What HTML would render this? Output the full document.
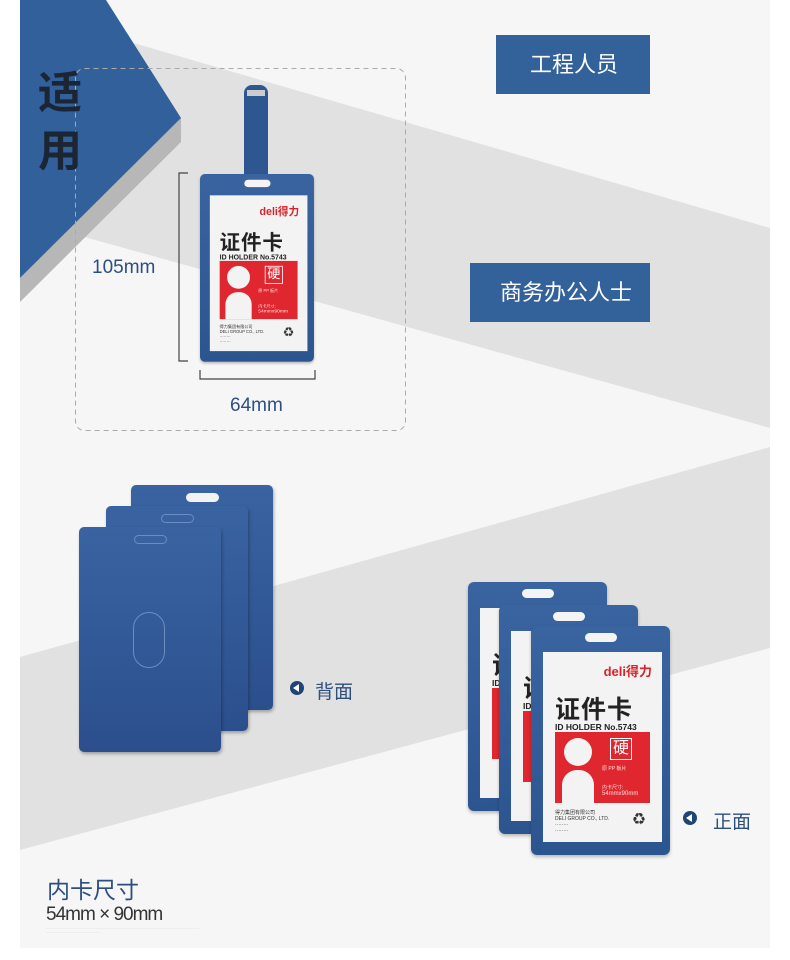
<!DOCTYPE html>
<html><head><meta charset="utf-8">
<style>
*{margin:0;padding:0;box-sizing:border-box}
body{width:790px;height:960px;background:#fff;position:relative;overflow:hidden;font-family:"Liberation Sans","Noto Sans CJK SC",sans-serif}
.abs{position:absolute}
.card{position:absolute;width:139px;height:229px;background:linear-gradient(180deg,#3a64a0,#2c5590);border-radius:6px;transform-origin:0 0;box-shadow:0 2px 3px rgba(0,0,0,.25)}
.card .slot{position:absolute;left:54px;top:7px;width:32px;height:9px;background:#f4f4f4;border-radius:5px}
.card .ins{position:absolute;left:12px;top:26px;width:119px;height:190px;background:#f3f3f3;overflow:hidden}
.ins .logo{position:absolute;right:10px;top:9px;color:#d8232a;font-size:13px;font-weight:bold}
.ins .t1{position:absolute;left:12px;top:38px;font-size:25px;font-weight:bold;color:#222;letter-spacing:1px}
.ins .t2{position:absolute;left:12px;top:70px;font-size:8.5px;font-weight:bold;color:#222;white-space:nowrap}
.ins .red{position:absolute;left:12px;top:80px;width:95px;height:71px;background:#e0262e}
.red .h{position:absolute;left:9px;top:6px;width:28px;height:28px;border-radius:50%;background:#f3f3f3}
.red .b{position:absolute;left:7px;top:38px;width:32px;height:33px;border-radius:15px 15px 0 0;background:#f3f3f3}
.red .y{position:absolute;left:55px;top:6px;width:22px;height:22px;border:1px solid #fff;color:#fff;font-size:16px;line-height:20px;text-align:center}
.red .s{position:absolute;left:47px;font-size:5px;color:#fdd;white-space:nowrap}
.ins .ft{position:absolute;left:12px;top:158px;font-size:5px;color:#333;line-height:6px;white-space:nowrap}
.ins .rc{position:absolute;left:90px;top:158px;font-size:12px;color:#333}
.bk{position:absolute;width:142px;height:225px;background:linear-gradient(180deg,#3a63a2,#2b4f8c);border-radius:5px;box-shadow:1px 2px 3px rgba(0,0,0,.3)}
.bk .slot{position:absolute;left:55px;top:8px;width:33px;height:9px;border-radius:5px;border:1px solid #6d8dc0}
.lbl{color:#2d4f80}
</style></head><body>
<div class="abs" style="left:20px;top:0;width:750px;height:948px;background:#f6f6f6"></div>
<svg class="abs" style="left:0;top:0" width="790" height="960">
<polygon points="20,10 770,228 770,428 20,219" fill="#e1e1e1"/>
<polygon points="20,657 770,447 770,648 20,850" fill="#e1e1e1"/>
<polygon points="181,118 181,142 20,302 20,278" fill="#b7b7b7"/>
<polygon points="20,0 106,0 181,118 20,278" fill="#31609a"/>
<rect x="75.5" y="68.5" width="330" height="362" rx="9" fill="none" stroke="#aaa" stroke-dasharray="5,4"/>
<path d="M188,173 H179 V361 H188" fill="none" stroke="#444" stroke-width="1.2"/>
<path d="M200,370 V379 H315 V370" fill="none" stroke="#444" stroke-width="1.2"/>
<rect x="244" y="85" width="24" height="110" rx="8" fill="#2e5690"/>
<rect x="247" y="90" width="18" height="6" fill="#ccc"/>
<circle cx="297" cy="688" r="7" fill="#1f4476"/><polygon points="293,688 299,684 299,692" fill="#fff"/>
<circle cx="690" cy="818" r="7" fill="#1f4476"/><polygon points="686,818 692,814 692,822" fill="#fff"/>
</svg>
<div class="abs" style="left:38px;top:60px;font-size:44px;font-weight:bold;color:#1b2533;line-height:58px;font-family:'Noto Sans CJK SC',sans-serif">适<br>用</div>

<div class="card" style="left:200px;top:174px;transform:scale(0.82)"><div class="slot"></div><div class="ins"><div class="logo">deli得力</div><div class="t1">证件卡</div><div class="t2">ID HOLDER  No.5743</div><div class="red"><div class="h"></div><div class="b"></div><div class="y">硬</div><div class="s" style="top:33px">原 PP 板片</div><div class="s" style="top:52px">内卡尺寸:</div><div class="s" style="top:59px;font-size:6px">54mmx90mm</div></div><div class="ft">得力集团有限公司<br>DELI GROUP CO., LTD.<br>········<br>········</div><div class="rc">♻</div></div></div>

<div class="abs lbl" style="left:92px;top:257px;font-size:19px">105mm</div>
<div class="abs lbl" style="left:230px;top:395px;font-size:19px">64mm</div>
<div class="abs" style="left:496px;top:35px;width:154px;height:59px;background:#33629b;color:#fff;font-size:22px;line-height:59px;padding-left:34px">工程人员</div>
<div class="abs" style="left:470px;top:263px;width:180px;height:59px;background:#33629b;color:#fff;font-size:22px;line-height:59px;padding-left:30px">商务办公人士</div>

<div class="bk" style="left:131px;top:485px"><div class="slot" style="background:#f2f2f2;border:none"></div></div>
<div class="bk" style="left:106px;top:506px"><div class="slot"></div></div>
<div class="bk" style="left:79px;top:527px"><div class="slot"></div><div style="position:absolute;left:54px;top:85px;width:32px;height:56px;border-radius:16px;border:1px solid #6d8dc0"></div></div>
<div class="abs lbl" style="left:315px;top:677px;font-size:19px">背面</div>

<div class="card" style="left:468px;top:582px"><div class="slot"></div><div class="ins"><div class="logo">deli得力</div><div class="t1">证件卡</div><div class="t2">ID HOLDER  No.5743</div><div class="red"></div></div></div>
<div class="card" style="left:499px;top:605px"><div class="slot"></div><div class="ins"><div class="logo">deli得力</div><div class="t1">证件卡</div><div class="t2">ID HOLDER  No.5743</div><div class="red"></div></div></div>
<div class="card" style="left:531px;top:626px"><div class="slot"></div><div class="ins"><div class="logo">deli得力</div><div class="t1">证件卡</div><div class="t2">ID HOLDER  No.5743</div><div class="red"><div class="h"></div><div class="b"></div><div class="y">硬</div><div class="s" style="top:33px">原 PP 板片</div><div class="s" style="top:52px">内卡尺寸:</div><div class="s" style="top:59px;font-size:6px">54mmx90mm</div></div><div class="ft">得力集团有限公司<br>DELI GROUP CO., LTD.<br>········<br>········</div><div class="rc">♻</div></div></div>
<div class="abs lbl" style="left:713px;top:807px;font-size:19px">正面</div>

<div class="abs lbl" style="left:47px;top:876px;font-size:23px;line-height:28px">内卡尺寸</div>
<div class="abs" style="left:46px;top:904px;font-size:19px;color:#333;line-height:22px;letter-spacing:-1px">54mm × 90mm</div>
<div class="abs" style="left:46px;top:926px;font-size:3px;color:#888;line-height:4px;white-space:nowrap">·························································································································································<br>······················································</div>
</body></html>
